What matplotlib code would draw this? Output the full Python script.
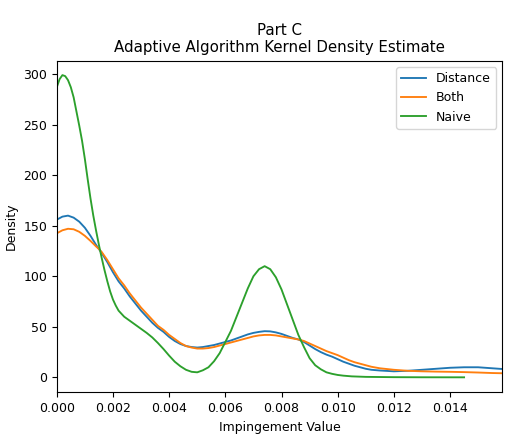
import matplotlib
matplotlib.use("Agg")
import matplotlib.pyplot as plt

# values
x_dist = [0, 0.0002, 0.0004, 0.0006, 0.0008, 0.001, 0.0012, 0.0014, 0.0015, 0.0016,
          0.0018, 0.002, 0.0022, 0.0024, 0.0026, 0.0028, 0.003, 0.0032, 0.0034, 0.0036,
          0.0038, 0.004, 0.0042, 0.0044, 0.0046, 0.0048, 0.005, 0.0052, 0.0054, 0.0056,
          0.0058, 0.006, 0.0062, 0.0064, 0.0066, 0.0068, 0.007, 0.0072, 0.0074, 0.0076,
          0.0078, 0.008, 0.0082, 0.0084, 0.0086, 0.0088, 0.009, 0.0092, 0.0094, 0.0096,
          0.0098, 0.01, 0.0102, 0.0104, 0.0106, 0.0108, 0.011, 0.0112, 0.0115, 0.012,
          0.0125, 0.013, 0.0135, 0.014, 0.0145, 0.015, 0.0155, 0.016]
distance = [156, 159, 160, 158, 154, 148, 140, 131, 127, 123,
            114, 104, 95, 88, 80, 73, 66, 60, 54, 49,
            45, 40, 36, 33, 31, 30, 29.5, 30, 31, 32,
            33.5, 35, 36.5, 38.5, 40.5, 42.5, 44, 45, 45.7, 45.5,
            44.5, 43, 41, 39, 37.5, 35, 31.5, 28, 25, 22.5,
            20.5, 18, 15.5, 13.5, 11.5, 10, 8.5, 7.5, 6.8, 6,
            6.5, 7.5, 8.5, 9.5, 10, 10, 9, 8]
both = [142.5, 145.5, 147, 146.5, 144, 140, 135, 129.5, 127, 124,
        116, 107, 98, 91, 83, 76, 69, 63, 57, 51,
        47, 42, 38, 34, 31, 29.5, 28.5, 28.5, 29, 30,
        31.5, 33, 34.5, 36, 37.5, 39, 40.5, 41.5, 42, 42,
        41.5, 40.5, 39.5, 38.5, 37.5, 36, 33.5, 31, 28.5, 26,
        24, 22, 19.5, 17, 15, 13.5, 12, 10.5, 9, 7.5,
        6.5, 6, 5.7, 5.5, 5.2, 4.8, 4.3, 4]

x_naive = [0, 0.0001, 0.0002, 0.0003, 0.0004, 0.0005, 0.0006, 0.0007, 0.0008, 0.0009,
           0.001, 0.0011, 0.0012, 0.0013, 0.0014, 0.0015, 0.0016, 0.0017, 0.0018, 0.0019,
           0.002, 0.0021, 0.0022, 0.0024, 0.0026, 0.0028, 0.003, 0.0032, 0.0034, 0.0036,
           0.0038, 0.004, 0.0042, 0.0044, 0.0046, 0.0048, 0.005, 0.0052, 0.0054, 0.0056,
           0.0058, 0.006, 0.0062, 0.0064, 0.0066, 0.0068, 0.007, 0.0072, 0.0074, 0.0076,
           0.0078, 0.008, 0.0082, 0.0084, 0.0086, 0.0088, 0.009, 0.0092, 0.0094, 0.0096,
           0.0098, 0.01, 0.0102, 0.0105, 0.011, 0.012, 0.013, 0.0145]
naive = [287, 295, 299, 298, 294, 287, 277, 263, 249, 234,
         216, 196, 177, 160, 145, 131, 118, 106, 95, 85,
         77, 71, 66, 60, 56, 52, 48, 44, 39.5, 34,
         28, 21.5, 15.5, 11, 7.5, 5.5, 5, 7, 10, 16,
         24, 35, 46, 60, 74, 88, 100, 107, 110, 107,
         99, 87, 72, 57, 42, 30, 19, 12, 8, 5,
         3.5, 2.4, 1.7, 1, 0.5, 0.2, 0.1, 0.05]

plt.rcParams['font.size'] = 9
plt.rcParams['lines.linewidth'] = 1.35

fig, ax = plt.subplots(figsize=(5.07, 4.34), dpi=100)
fig.subplots_adjust(left=0.112, right=0.9907, top=0.860, bottom=0.096)

ax.plot(x_dist, distance, color='#1f77b4', label='Distance')
ax.plot(x_dist, both, color='#ff7f0e', label='Both')
ax.plot(x_naive, naive, color='#2ca02c', label='Naive')

ax.set_xlim(0, 0.01586)
ax.set_ylim(-14.8, 313.2)
ax.set_xticks([0, 0.002, 0.004, 0.006, 0.008, 0.010, 0.012, 0.014])
ax.set_xticklabels(['0.000', '0.002', '0.004', '0.006', '0.008', '0.010', '0.012', '0.014'])
ax.set_xlabel('Impingement Value')
ax.set_ylabel('Density')
ax.set_title('Part C\nAdaptive Algorithm Kernel Density Estimate')
ax.legend(loc='upper right')

fig.savefig('out.png', dpi=100)
